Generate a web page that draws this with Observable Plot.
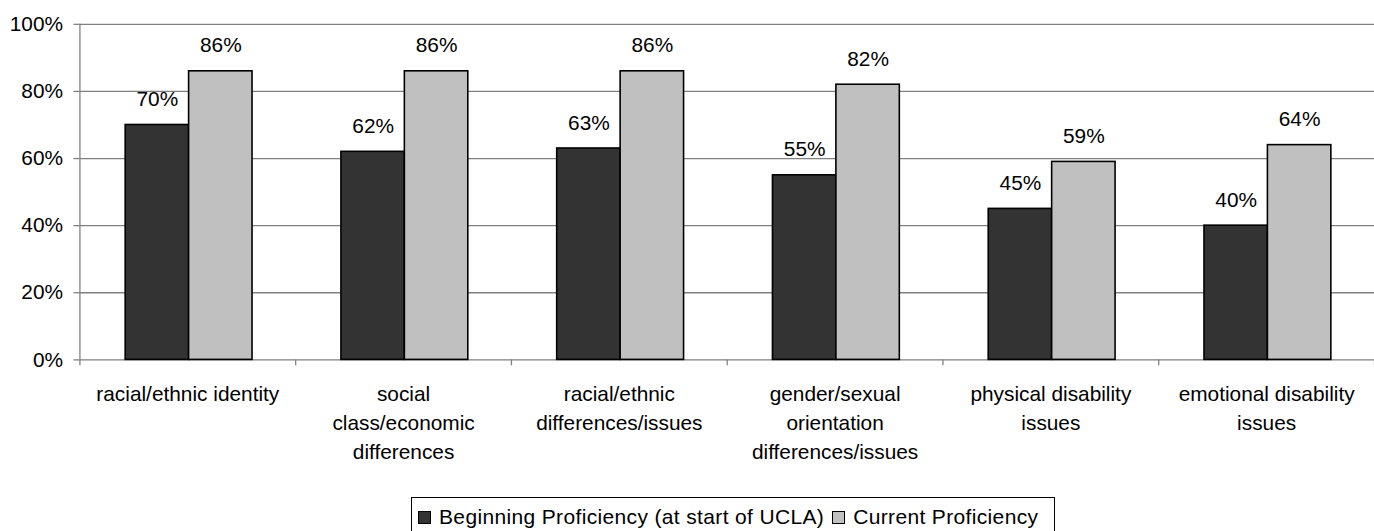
<!DOCTYPE html>
<html>
<head>
<meta charset="utf-8">
<script src="https://cdn.jsdelivr.net/npm/d3@7"></script>
<script src="https://cdn.jsdelivr.net/npm/@observablehq/plot@0.6"></script>
<style>
  html, body { margin: 0; padding: 0; background: #fff; overflow: hidden; width: 1374px; height: 531px; }
  #wrap { position: relative; width: 1374px; height: 531px; font-family: "Liberation Sans", Arial, sans-serif; }
  #chart svg { display: block; }
  #legend { position: absolute; left: 411px; top: 497px; border: 1px solid #000; height: 44px; box-sizing: border-box;
            display: flex; align-items: flex-start; padding: 7px 8px 0 6px; font-size: 21px; letter-spacing: 0.35px; color: #000; white-space: nowrap; }
  .sw { display: inline-block; width: 11px; height: 11px; border: 1px solid #000; margin: 6px 8px 0 0; }
  .item { display: flex; align-items: flex-start; margin-right: 8px; }
</style>
</head>
<body>
<div id="wrap">
  <div id="chart"></div>
  <div id="legend"></div>
</div>
<script>
const categories = [
  "racial/ethnic identity",
  "social\nclass/economic\ndifferences",
  "racial/ethnic\ndifferences/issues",
  "gender/sexual\norientation\ndifferences/issues",
  "physical disability\nissues",
  "emotional disability\nissues"
];
const seriesNames = ["Beginning Proficiency (at start of UCLA)", "Current Proficiency"];
const beginning = [0.70, 0.62, 0.63, 0.55, 0.45, 0.40];
const current = [0.86, 0.86, 0.86, 0.82, 0.59, 0.64];
const yTicks = [0, 0.2, 0.4, 0.6, 0.8, 1.0];
const colors = ["#333333", "#c0c0c0"];

const groupStart = 0.212;   // fraction of category band before first bar
const barWidth = 0.294;     // fraction of category band per bar

const rows = [];
categories.forEach((c, i) => {
  [beginning, current].forEach((vals, s) => {
    rows.push({cat: c, idx: i, series: seriesNames[s], s, value: vals[i]});
  });
});

const chart = Plot.plot({
  width: 1384,
  height: 495,
  marginLeft: 80,
  marginRight: 0,
  marginTop: 24,
  marginBottom: 133,
  style: {fontFamily: "'Liberation Sans', Arial, sans-serif", fontSize: "21px", color: "#000", background: "#fff", overflow: "visible"},
  x: {type: "linear", domain: [0, categories.length], axis: null},
  y: {domain: [0, 1], axis: null},
  color: {domain: seriesNames, range: colors},
  marks: [
    Plot.ruleY(yTicks.filter(d => d > 0), {stroke: "#808080", strokeWidth: 1.3}),
    Plot.axisY({ticks: yTicks, tickFormat: d => Math.round(d * 100) + "%", tickSize: 6, tickPadding: 11,
                label: null, fontSize: 21, stroke: "#808080", strokeWidth: 1.3, fill: "#000"}),
    Plot.axisX({ticks: d3.range(categories.length + 1), tickFormat: () => "", tickSize: 6, label: null,
                stroke: "#808080", strokeWidth: 1.3}),
    Plot.ruleX([0], {stroke: "#808080", strokeWidth: 1.3}),
    Plot.ruleY([0], {stroke: "#808080", strokeWidth: 1.3}),
    Plot.rectY(rows, {
      x1: d => d.idx + groupStart + d.s * barWidth,
      x2: d => d.idx + groupStart + (d.s + 1) * barWidth,
      y1: 0, y2: "value",
      fill: "series", stroke: "#000", strokeWidth: 1.6
    }),
    Plot.text(rows, {
      x: d => d.idx + groupStart + (d.s + 0.5) * barWidth,
      y: "value",
      text: d => Math.round(d.value * 100) + "%",
      lineAnchor: "bottom", dy: -19, fontSize: 21, fill: "#000"
    }),
    Plot.text(categories, {
      x: (d, i) => i + 0.5,
      y: () => 0,
      text: d => d,
      lineAnchor: "top", dy: 20, lineHeight: 1.41, fontSize: 21, fill: "#000"
    })
  ]
});
document.getElementById("chart").appendChild(chart);

const legend = document.getElementById("legend");
seriesNames.forEach((name, i) => {
  const item = document.createElement("span");
  item.className = "item";
  const sw = document.createElement("span");
  sw.className = "sw";
  sw.style.background = colors[i];
  item.appendChild(sw);
  item.appendChild(document.createTextNode(name));
  legend.appendChild(item);
});
</script>
</body>
</html>
